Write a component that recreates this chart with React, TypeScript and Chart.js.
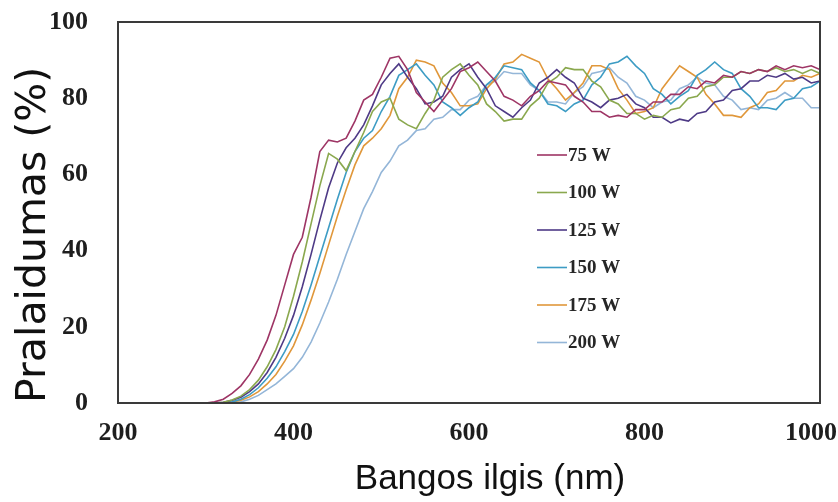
import React, { useEffect, useRef } from "react";
import { Chart, registerables } from "chart.js";

Chart.register(...registerables);

// Wavelength grid (nm)
const wavelengths = [
  300, 310, 320, 330, 340, 350, 360, 370, 380, 390,
  400, 410, 420, 430, 440, 450, 460, 470, 480, 490,
  500, 510, 520, 530, 540, 550, 560, 570, 580, 590,
  600, 610, 620, 630, 640, 650, 660, 670, 680, 690,
  700, 710, 720, 730, 740, 750, 760, 770, 780, 790,
  800, 810, 820, 830, 840, 850, 860, 870, 880, 890,
  900, 910, 920, 930, 940, 950, 960, 970, 980, 990,
  1000,
];

const seriesLabels = ["75 W", "100 W", "125 W", "150 W", "175 W", "200 W"];
const seriesColors = ["#9e3565", "#8aa84e", "#4e3a86", "#3d9cc4", "#e0973a", "#94b6d8"];

const t75 = [
  0, 0.3, 1, 2.5, 4.5, 7.5, 11.5, 16.5, 23, 31,
  39, 43.5, 54, 66, 69, 68.5, 69.5, 74, 79.5, 81,
  85.5, 90.5, 91, 87.5, 81.5, 79, 76.5, 79.5, 82.5, 87,
  88, 89.5, 87, 84.5, 80.5, 79.5, 78, 80.5, 82, 84.5,
  84, 83.5, 80.5, 79, 76.5, 76.5, 75, 75.5, 75, 77,
  77, 79, 79, 81, 81, 83, 82.5, 84.5, 84, 86,
  85.5, 87, 86.5, 87.5, 87, 88.5, 87.5, 88.5, 88, 88.5,
  87.5,
];
const t100 = [
  0, 0, 0.2, 0.8, 1.8, 3.5, 6, 9.5, 14, 20,
  28, 37, 47, 57, 65.5, 64, 61, 66, 71, 76.5,
  79, 80, 74.5, 73, 72, 76, 79.5, 85.5, 87.5, 89,
  86, 83.5, 78.5, 76.5, 74, 74.5, 74.5, 78, 80, 84,
  85.5, 88, 87.5, 87.5, 84.5, 83, 79.5, 78.5, 76, 76,
  74.5, 75.5, 75, 77, 77.5, 80, 80.5, 83, 83.5, 85.5,
  85.5, 87, 86.5, 87.5, 87, 88, 87, 87.5, 86.5, 87.5,
  86.5,
];
const t125 = [
  0, 0, 0.2, 0.7, 1.5, 3, 5, 8, 12, 17,
  23, 30.5, 39, 48, 56.5, 63, 67, 69.5, 73, 78,
  83.5, 86.5, 89, 85.5, 82.5, 78.5, 79, 80.5, 85.5, 87.5,
  89, 85.5, 82.5, 78, 76.5, 75, 77.5, 79.5, 84, 85.5,
  87.5, 85.5, 84, 80, 79, 77.5, 79.5, 80, 81, 78.5,
  77.5, 75, 75, 73.5, 74.5, 74, 76, 76.5, 79, 79.5,
  82, 82.5, 84.5, 84.5, 86, 85.5, 86.5, 85, 85.5, 84,
  84.5,
];
const t150 = [
  0, 0, 0, 0.3, 1, 2.2, 4, 6.5, 9.5, 13.5,
  18, 24, 31, 38.5, 46, 53.5, 60.5, 66, 69.5, 71.5,
  76.5, 80.5, 86, 87.5, 89, 86, 83.5, 79, 77.5, 75.5,
  77.5, 79, 83.5, 85.5, 88.5, 88, 87.5, 84, 82, 78.5,
  78, 76.5, 78.5, 79.5, 83.5, 85.5, 89, 89.5, 91, 88.5,
  86.5, 82.5, 81, 78.5, 80.5, 82, 86, 87.5, 89.5, 87.5,
  86.5, 82.5, 80.5, 77.5, 77.5, 77, 79.5, 80, 82.5, 83,
  84.5,
];
const t175 = [
  0, 0, 0, 0.2, 0.7, 1.6, 3, 5, 7.5, 11,
  15, 20.5, 27, 34, 41.5, 49, 56, 62.5, 67.5, 69.5,
  72, 75.5, 82.5, 85.5, 90, 89.5, 88.5, 84, 81.5, 78,
  78, 78.5, 82.5, 85, 89, 89.5, 91.5, 90.5, 89.5, 85,
  82.5, 79.5, 81.5, 84, 88.5, 88.5, 87.5, 82.5, 79.5, 76,
  76.5, 77.5, 82.5, 85.5, 88.5, 87, 85.5, 81, 78.5, 75.5,
  75.5, 75, 77.5, 78.5, 81.5, 82, 84.5, 84.5, 86, 85.5,
  86.5,
];
const t200 = [
  0, 0, 0, 0, 0.3, 1, 2, 3.5, 5, 7,
  9, 12, 16, 21, 26.5, 32.5, 39, 45, 51, 55.5,
  60.5, 63.5, 67.5, 69, 71.5, 72, 74.5, 75, 77, 77,
  79.5, 80.5, 83.5, 84.5, 87, 86.5, 86.5, 83.5, 82, 79,
  79, 78.5, 81.5, 83, 86.5, 87, 88, 85.5, 84, 80.5,
  79.5, 77.5, 79, 79.5, 82.5, 83.5, 85.5, 84, 83.5, 80.5,
  79.5, 77, 77.5, 77, 79.5, 80, 81.5, 80, 80, 77.5,
  77.5,
];

const seriesValues = [t75, t100, t125, t150, t175, t200];

const xTicks = [200, 400, 600, 800, 1000];
const yTicks = [0, 20, 40, 60, 80, 100];

const xTitle = "\u2003\u2009Bangos ilgis (nm)";
const yTitle = "Pralaidumas (%)";

const framePlugin = {
  id: "frame",
  afterDatasetsDraw(chart: any) {
    const { ctx, chartArea } = chart;
    ctx.save();
    ctx.strokeStyle = "#3a3a3a";
    ctx.lineWidth = 2;
    ctx.strokeRect(
      chartArea.left,
      chartArea.top,
      chartArea.right - chartArea.left,
      chartArea.bottom - chartArea.top
    );
    ctx.restore();
  },
};

const legendPlugin = {
  id: "insetLegend",
  afterDraw(chart: any) {
    const { ctx } = chart;
    const x0 = 537;
    const y0 = 155;
    const step = 37.5;
    ctx.save();
    ctx.font = 'bold 19px "Liberation Serif", "Times New Roman", serif';
    ctx.textBaseline = "middle";
    ctx.textAlign = "left";
    chart.data.datasets.forEach((ds: any, i: number) => {
      const y = y0 + i * step;
      ctx.strokeStyle = ds.borderColor;
      ctx.lineWidth = 1.6;
      ctx.beginPath();
      ctx.moveTo(x0, y);
      ctx.lineTo(x0 + 30, y);
      ctx.stroke();
      ctx.fillStyle = "#262626";
      ctx.fillText(ds.label, x0 + 31, y + 1);
    });
    ctx.restore();
  },
};

export default function App() {
  const canvasRef = useRef<HTMLCanvasElement | null>(null);

  useEffect(() => {
    if (!canvasRef.current) return;
    const datasets = seriesLabels.map((label, s) => ({
      label,
      data: wavelengths.map((w, i) => ({ x: w, y: seriesValues[s][i] })),
      borderColor: seriesColors[s],
      backgroundColor: seriesColors[s],
      borderWidth: 1.6,
      pointRadius: 0,
      tension: 0,
      fill: false,
    }));

    const chart = new Chart(canvasRef.current, {
      type: "line",
      data: { datasets },
      options: {
        animation: false,
        responsive: true,
        maintainAspectRatio: false,
        layout: { padding: { top: 22, right: 18, left: 0, bottom: 0 } },
        plugins: {
          legend: { display: false },
          tooltip: { enabled: false },
        },
        scales: {
          x: {
            type: "linear",
            min: 200,
            max: 1000,
            afterBuildTicks: (scale: any) => {
              scale.ticks = xTicks.map((v) => ({ value: v }));
            },
            afterFit: (scale: any) => {
              scale.height = 99;
              scale.paddingLeft = 0;
              scale.paddingRight = 0;
            },
            grid: { display: false, drawTicks: false },
            border: { display: false },
            ticks: {
              padding: 15,
              autoSkip: false,
              maxRotation: 0,
              color: "#1e1e1e",
              font: { family: '"Liberation Serif", "Times New Roman", serif', size: 26, weight: "bold" },
              callback: (v: any) => (v === 1000 ? "1000\u2002\u2009" : String(v)),
            },
            title: {
              display: true,
              text: xTitle,
              color: "#111",
              font: { family: '"Liberation Sans", sans-serif', size: 35 },
              padding: { top: 0, bottom: 2 },
            },
          },
          y: {
            type: "linear",
            min: 0,
            max: 100,
            afterBuildTicks: (scale: any) => {
              scale.ticks = yTicks.map((v) => ({ value: v }));
            },
            afterFit: (scale: any) => {
              scale.width = 118;
              scale.paddingTop = 0;
              scale.paddingBottom = 0;
            },
            grid: { display: false, drawTicks: false },
            border: { display: false },
            ticks: {
              padding: 30,
              autoSkip: false,
              color: "#1e1e1e",
              font: { family: '"Liberation Serif", "Times New Roman", serif', size: 26, weight: "bold" },
            },
            title: {
              display: true,
              text: yTitle,
              align: "start",
              color: "#111",
              font: { family: '"DejaVu Sans", sans-serif', size: 41 },
              padding: { top: 9.5, bottom: 0 },
            },
          },
        },
      },
      plugins: [framePlugin, legendPlugin],
    } as any);

    return () => chart.destroy();
  }, []);

  return (
    <div style={{ position: "fixed", left: 0, top: 0, width: 838, height: 502, background: "#fff" }}>
      <canvas ref={canvasRef} />
    </div>
  );
}
